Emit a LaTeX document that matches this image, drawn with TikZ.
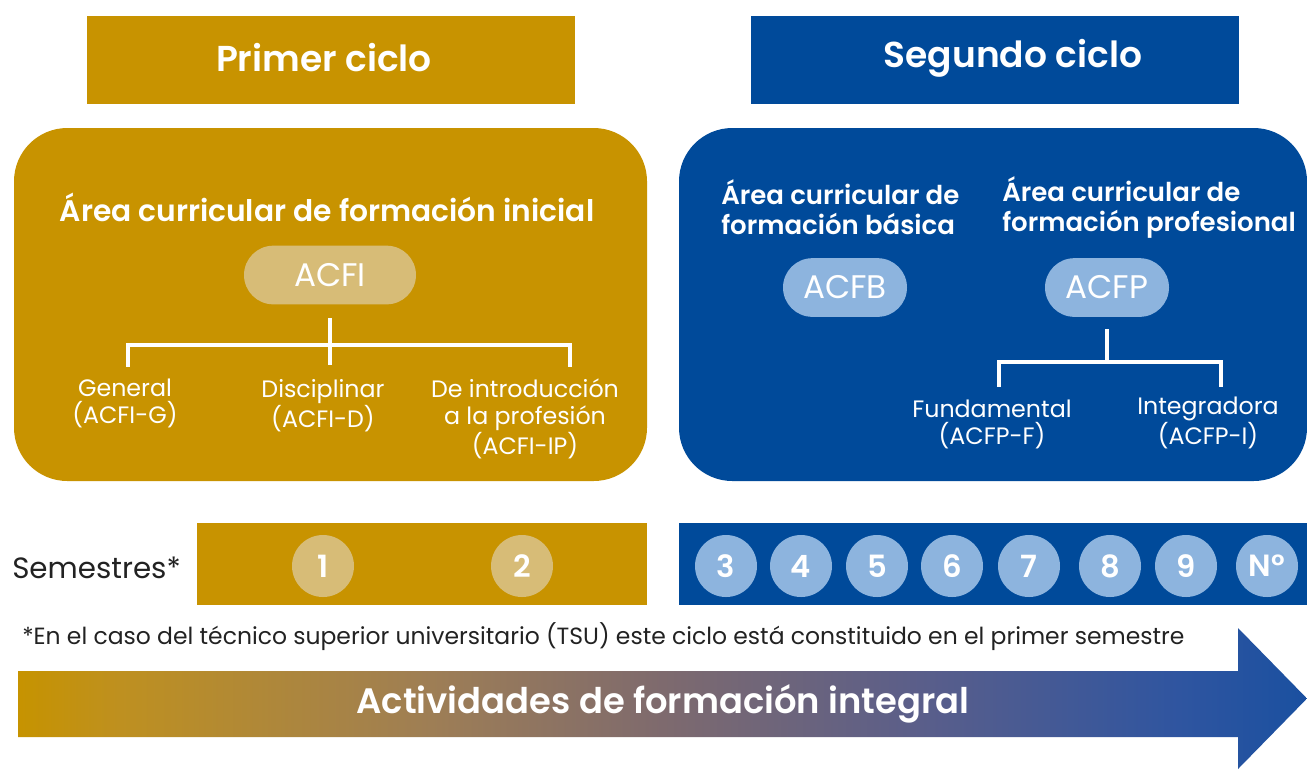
\documentclass[tikz,border=0pt]{standalone}
\usepackage{fontspec}
\setmainfont{Poppins}[BoldFont={Poppins SemiBold}]
\definecolor{gold}{HTML}{C89300}
\definecolor{navy}{HTML}{004A9A}
\definecolor{goldlight}{HTML}{D7BC77}
\definecolor{bluelight}{HTML}{8DB4DE}
\definecolor{txtgray}{HTML}{222222}
\definecolor{gA}{HTML}{C69300}
\definecolor{gB}{HTML}{BE9020}
\definecolor{gC}{HTML}{9E7E55}
\definecolor{gD}{HTML}{7E6A6E}
\definecolor{gE}{HTML}{5A5E8A}
\definecolor{gF}{HTML}{2F55A0}
\definecolor{gG}{HTML}{1A50A0}
\pgfdeclarehorizontalshading{arrowshade}{100bp}{color(0bp)=(gA); color(25bp)=(gA); color(29bp)=(gB); color(41bp)=(gC); color(50bp)=(gD); color(60bp)=(gE); color(70bp)=(gF); color(75bp)=(gG); color(100bp)=(gG)}
\tikzset{
  hdr/.style={minimum width=366pt, minimum height=66pt, inner sep=0pt, text=white, font=\bfseries\fontsize{27}{30}\selectfont},
  hdrtext/.style={text=white, inner sep=0pt, font=\bfseries\fontsize{27}{30}\selectfont},
  areatitle/.style={text=white, font=\bfseries\fontsize{19.5}{22.5}\selectfont, inner sep=0pt, align=left},
  pill/.style={rounded corners=22pt, minimum height=44pt, inner sep=0pt, text=white, font=\fontsize{24.5}{26}\selectfont},
  lbl/.style={text=white, font=\fontsize{17.8}{20.25}\selectfont, align=center, inner sep=0pt},
  tree/.style={draw=white, line width=2.3pt},
  sem/.style={circle, minimum size=46.5pt, inner sep=0pt, text=white, font=\bfseries\fontsize{23}{24}\selectfont},
}
\begin{document}
\begin{tikzpicture}[x=0.75pt,y=-0.75pt]
\useasboundingbox (0,0) rectangle (1307,769);
% headers
\node[hdr, fill=gold] (h1) at (331,60) {};
\node[hdrtext] (h1t) at (324,58) {Primer ciclo};
\node[hdr, fill=navy] (h2) at (995,60) {};
\node[hdrtext] (h2t) at (1013,58) {Segundo ciclo};
% area boxes
\fill[gold, rounded corners=40pt] (14,128) rectangle (647,481);
\fill[navy, rounded corners=40pt] (679,128) rectangle (1307,481);
% first cycle
\node[text=white, font=\bfseries\fontsize{22.3}{24}\selectfont, inner sep=0pt] (t1) at (327,207) {Área curricular de formación inicial};
\node[pill, fill=goldlight, minimum width=129pt] (acfi) at (330,275) {\raisebox{-2pt}{ACFI}};
\coordinate (fiTop) at (330,318);
\coordinate (fiMid) at (330,345);
\coordinate (fiL) at (128,345);
\coordinate (fiR) at (570,345);
\coordinate (fiLd) at (128,365);
\coordinate (fiMd) at (330,365);
\coordinate (fiRd) at (570,365);
\draw[tree] (fiTop) -- (fiMd);
\draw[tree, line cap=rect] (fiLd) -- (fiL) -- (fiR) -- (fiRd);
\node[lbl] (gen) at (125,403.5) {General\\(ACFI-G)};
\node[lbl] (dis) at (323,405.5) {Disciplinar\\(ACFI-D)};
\node[lbl] (intro) at (525,419) {De introducción\\a la profesión\\(ACFI-IP)};
% second cycle
\node[areatitle, anchor=west] (t2) at (721,207.5) {Área curricular de\\formación básica};
\node[areatitle, anchor=west] (t3) at (1002,207.5) {Área curricular de\\formación profesional};
\node[pill, fill=bluelight, minimum width=93pt] (acfb) at (845,287.5) {ACFB};
\node[pill, fill=bluelight, minimum width=93pt] (acfp) at (1107,287.5) {ACFP};
\coordinate (fpTop) at (1107,329);
\coordinate (fpMid) at (1107,362);
\coordinate (fpL) at (999,362);
\coordinate (fpR) at (1221,362);
\coordinate (fpLd) at (999,385);
\coordinate (fpRd) at (1221,385);
\draw[tree] (fpTop) -- (fpMid);
\draw[tree, line cap=rect] (fpLd) -- (fpL) -- (fpR) -- (fpRd);
\node[lbl] (fund) at (992,424) {Fundamental\\(ACFP-F)};
\node[lbl] (integ) at (1208,423) {Integradora\\(ACFP-I)};
% semesters
\node[anchor=west, inner sep=0pt, text=txtgray, font=\fontsize{22}{24}\selectfont] (semlbl) at (12,568) {Semestres*};
\fill[gold] (197,523) rectangle (647,605);
\fill[navy] (679,523) rectangle (1307,605);
\node[sem, fill=goldlight] (s1) at (323,566) {1};
\node[sem, fill=goldlight] (s2) at (522,566) {2};
\foreach \n/\x in {3/726,4/801,5/877,6/952,7/1029,8/1110,9/1186,N°/1267}{
  \node[sem, fill=bluelight] (s\n) at (\x,566) {\n};
}
% footnote
\node[anchor=west, inner sep=0pt, text=txtgray, font=\fontsize{17.6}{19}\selectfont] (note) at (22,637) {*En el caso del técnico superior universitario (TSU) este ciclo está constituido en el primer semestre};
% arrow
\shade[shading=arrowshade] (18,671) -- (1238,671) -- (1238,628) -- (1307,698.5) -- (1238,769) -- (1238,737) -- (18,737) -- cycle;
\node[text=white, inner sep=0pt, font=\bfseries\fontsize{26.5}{28}\selectfont] (act) at (663,704) {Actividades de formación integral};
\end{tikzpicture}
\end{document}
